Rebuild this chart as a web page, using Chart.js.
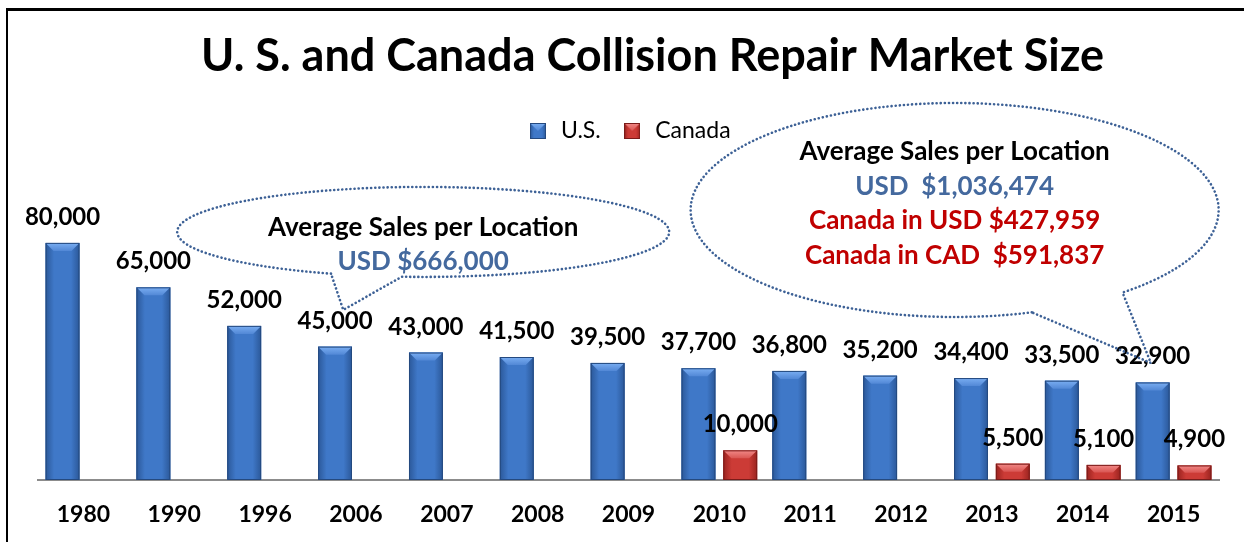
<!DOCTYPE html>
<html>
<head>
<meta charset="utf-8">
<script src="https://cdn.jsdelivr.net/npm/chart.js@4.4.0/dist/chart.umd.min.js"></script>
<style>
    html, body { margin: 0; padding: 0; background: #fff; }
    #wrap { position: relative; width: 1244px; height: 542px; overflow: hidden; }
    #marketChart { display: block; }
    /* ramka widoczna tylko z góry i z lewej, jak w oryginale */
    #frame { position: absolute; left: 6px; top: 8px; right: -4px; bottom: -4px;
             border-top: 3px solid #000; border-left: 2px solid #000; pointer-events: none; }
</style>
</head>
<body>
<div id="wrap">
    <canvas id="marketChart" width="1244" height="542"></canvas>
    <div id="frame"></div>
</div>
<script>
// Dane wykresu
const years = ['1980', '1990', '1996', '2006', '2007', '2008', '2009', '2010', '2011', '2012', '2013', '2014', '2015'];
const usLocations = [80000, 65000, 52000, 45000, 43000, 41500, 39500, 37700, 36800, 35200, 34400, 33500, 32900];
const canadaLocations = [null, null, null, null, null, null, null, 10000, null, null, 5500, 5100, 4900];

const BLUE_TEXT = '#44699e';
const RED_TEXT = '#c00000';
const FONT = 'Lato, "Open Sans", sans-serif';
const TITLE_SHIFT = 24; // tytuł w oryginale jest lekko przesunięty w prawo

// Kolory "3D" słupków
const usColors = { mid: '#3f78c8', edge: '#2b5899', top: '#7aaef2', topLow: '#5288d6', line: '#24497f' };
const caColors = { mid: '#cc3b36', edge: '#9a231f', top: '#f28a88', topLow: '#d95552', line: '#7a1b19' };

// Dymki z opisem (środek w jednostkach osi, promienie w px)
const callouts = [
    {
        at: [3.74, 83700], rx: 246, ry: 45, gap: [95, 112], tip: [2.86, 57400],
        firstLine: -4, lineStep: 34,
        lines: [['Average Sales per Location', '#000'], ['USD $666,000', BLUE_TEXT]]
    },
    {
        at: [9.59, 91100], rx: 264, ry: 107, gap: [50.5, 73], tip: [11.75, 39500],
        firstLine: -58, lineStep: 34.5,
        lines: [
            ['Average Sales per Location', '#000'],
            ['USD  $1,036,474', BLUE_TEXT],
            ['Canada in USD $427,959', RED_TEXT],
            ['Canada in CAD  $591,837', RED_TEXT]
        ]
    }
];

function paintBar(ctx, L, T, R, B, c) {
    const w = R - L;
    const b = Math.min(8, (B - T) / 2, w / 2);
    const g = ctx.createLinearGradient(L, 0, R, 0);
    g.addColorStop(0, c.edge);
    g.addColorStop(0.25, c.mid);
    g.addColorStop(0.75, c.mid);
    g.addColorStop(1, c.edge);
    ctx.fillStyle = g;
    ctx.fillRect(L, T, w, B - T);

    const tg = ctx.createLinearGradient(0, T, 0, T + b);
    tg.addColorStop(0, c.top);
    tg.addColorStop(1, c.topLow);
    ctx.fillStyle = tg;
    ctx.beginPath();
    ctx.moveTo(L, T);
    ctx.lineTo(R, T);
    ctx.lineTo(R - b, T + b);
    ctx.lineTo(L + b, T + b);
    ctx.closePath();
    ctx.fill();

    ctx.strokeStyle = c.line;
    ctx.lineWidth = 1;
    ctx.strokeRect(L + 0.5, T + 0.5, w - 1, B - T - 1);
}

function makeSwatch(c) {
    const cv = document.createElement('canvas');
    cv.width = 16;
    cv.height = 16;
    paintBar(cv.getContext('2d'), 0, 0, 16, 16, c);
    return cv;
}

const swatches = [makeSwatch(usColors), makeSwatch(caColors)];

// Plugin: efekt 3D na słupkach + etykiety wartości
const barStyle = {
    id: 'barStyle',
    afterLayout(chart) {
        chart.titleBlock.left = chart.chartArea.left + 2 * TITLE_SHIFT;
    },
    afterDatasetsDraw(chart) {
        const ctx = chart.ctx;
        const palette = [usColors, caColors];
        ctx.save();
        chart.data.datasets.forEach((ds, di) => {
            chart.getDatasetMeta(di).data.forEach((bar, i) => {
                if (ds.data[i] == null) return;
                const { x, y, base, width } = bar.getProps(['x', 'y', 'base', 'width'], true);
                paintBar(ctx, x - width / 2, Math.min(y, base), x + width / 2, Math.max(y, base), palette[di]);
            });
        });

        ctx.font = 'bold 24px ' + FONT;
        ctx.fillStyle = '#000';
        ctx.textAlign = 'center';
        ctx.textBaseline = 'alphabetic';
        chart.data.datasets.forEach((ds, di) => {
            chart.getDatasetMeta(di).data.forEach((bar, i) => {
                const v = ds.data[i];
                if (v == null) return;
                ctx.fillText(v.toLocaleString('en-US'), bar.x, bar.y - 18);
            });
        });
        ctx.restore();
    }
};

// Plugin: dymki z kropkowaną obwódką
const calloutPlugin = {
    id: 'callouts',
    afterDraw(chart) {
        const ctx = chart.ctx;
        const xs = chart.scales.x;
        const ys = chart.scales.y;
        const rad = d => d * Math.PI / 180;
        ctx.save();
        callouts.forEach(c => {
            const cx = xs.getPixelForValue(c.at[0]);
            const cy = ys.getPixelForValue(c.at[1]);
            const tx = xs.getPixelForValue(c.tip[0]);
            const ty = ys.getPixelForValue(c.tip[1]);

            ctx.beginPath();
            ctx.ellipse(cx, cy, c.rx, c.ry, 0, rad(c.gap[1]), rad(c.gap[0] + 360));
            ctx.lineTo(tx, ty);
            ctx.closePath();
            ctx.setLineDash([0.1, 4]);
            ctx.lineCap = 'round';
            ctx.lineWidth = 2.6;
            ctx.strokeStyle = '#3d6196';
            ctx.stroke();
            ctx.setLineDash([]);

            ctx.font = 'bold 26px ' + FONT;
            ctx.textAlign = 'center';
            ctx.textBaseline = 'middle';
            c.lines.forEach((ln, k) => {
                ctx.fillStyle = ln[1];
                ctx.fillText(ln[0], cx, cy + c.firstLine + k * c.lineStep);
            });
        });
        ctx.restore();
    }
};

function renderMarketChart() {
    const ctx = document.getElementById('marketChart').getContext('2d');

    new Chart(ctx, {
        type: 'bar',
        data: {
            labels: years,
            datasets: [{
                label: 'U.S.',
                data: usLocations,
                backgroundColor: usColors.mid,
                categoryPercentage: 0.92,
                barPercentage: 0.81
            }, {
                label: 'Canada',
                data: canadaLocations,
                backgroundColor: caColors.mid,
                categoryPercentage: 0.92,
                barPercentage: 0.81
            }]
        },
        options: {
            responsive: false,
            animation: false,
            layout: {
                padding: { left: 38, right: 25, top: 0, bottom: 0 }
            },
            scales: {
                x: {
                    grid: { display: false, drawTicks: false },
                    border: { display: true, color: '#8c8c8c', width: 2 },
                    ticks: {
                        color: '#000',
                        padding: 21,
                        font: { family: FONT, size: 23, weight: 'bold' }
                    },
                    afterFit(scale) {
                        scale.height = 62;
                    }
                },
                y: {
                    display: false,
                    min: 0,
                    max: 110500
                }
            },
            plugins: {
                title: {
                    display: true,
                    text: 'U. S. and Canada Collision Repair Market Size',
                    color: '#000',
                    font: { family: FONT, size: 45, weight: 'bold' },
                    padding: { top: 29, bottom: 16.5 }
                },
                legend: {
                    position: 'top',
                    labels: {
                        color: '#000',
                        padding: 20,
                        usePointStyle: true,
                        font: { family: FONT, size: 23 },
                        generateLabels(chart) {
                            const items = Chart.defaults.plugins.legend.labels.generateLabels(chart);
                            items.forEach((it, i) => { it.pointStyle = swatches[i]; });
                            return items;
                        }
                    }
                },
                tooltip: { enabled: false }
            }
        },
        plugins: [barStyle, calloutPlugin]
    });
}

renderMarketChart();
</script>
</body>
</html>
